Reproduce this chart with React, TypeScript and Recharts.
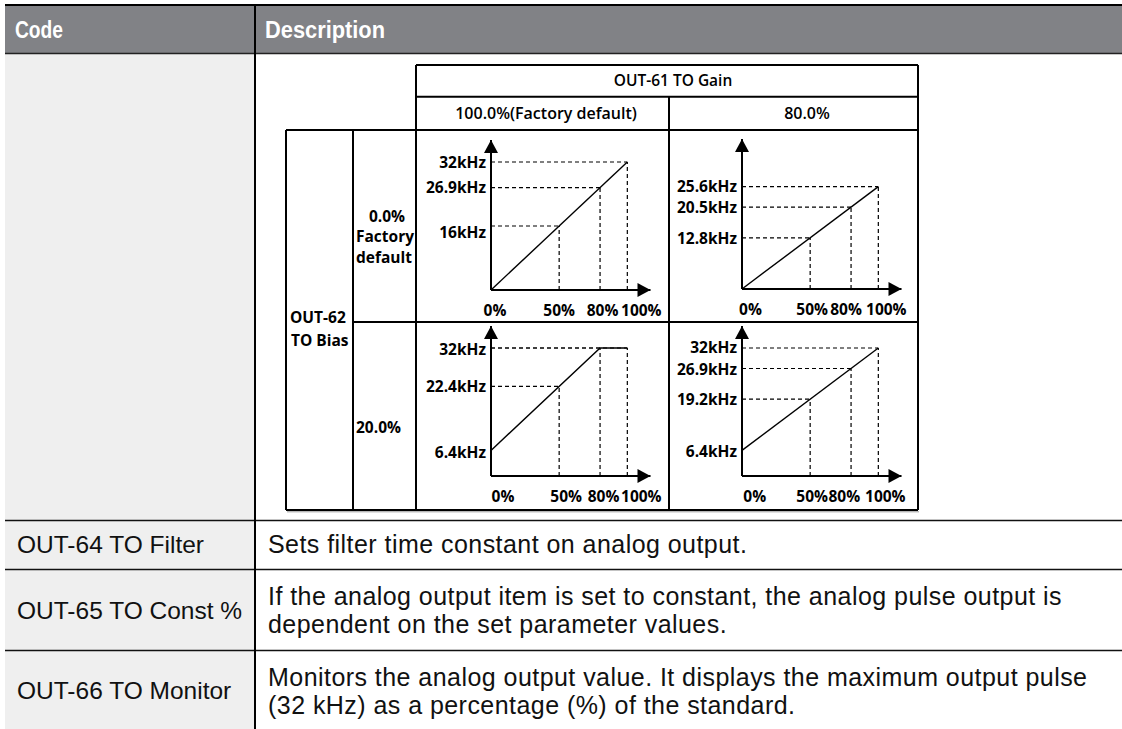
import React from "react";
import { LineChart, Line, XAxis, YAxis, ReferenceLine, ReferenceDot } from "recharts";

// TO output curves: x = output item level (%), y = output pulse (kHz)
const gain100Bias0 = [
  { x: 0, y: 0 },
  { x: 100, y: 32 },
];
const gain80Bias0 = [
  { x: 0, y: 0 },
  { x: 100, y: 25.6 },
];
const gain100Bias20 = [
  { x: 0, y: 6.4 },
  { x: 80, y: 32 },
  { x: 100, y: 32 },
];
const gain80Bias20 = [
  { x: 0, y: 6.4 },
  { x: 100, y: 32 },
];

const xTicks = [0, 50, 80, 100];
const xLabels = ["0%", "50%", "80%", "100%"];
const guideX = [50, 80, 100];

const guideY100_0 = [16, 25.6, 32];
const guideY80_0 = [12.8, 20.48, 25.6];
const guideY100_20 = [22.4, 32, 32];
const guideY80_20 = [19.2, 26.88, 32];

const yTicks100_0 = [16, 25.6, 32];
const yLabels100_0 = ["16kHz", "26.9kHz", "32kHz"];
const yTicks80_0 = [12.8, 20.48, 25.6];
const yLabels80_0 = ["12.8kHz", "20.5kHz", "25.6kHz"];
const yTicks100_20 = [6.4, 22.4, 32];
const yLabels100_20 = ["6.4kHz", "22.4kHz", "32kHz"];
const yTicks80_20 = [6.4, 19.2, 26.88, 32];
const yLabels80_20 = ["6.4kHz", "19.2kHz", "26.9kHz", "32kHz"];

const gainLabels = ["100.0%(Factory default)", "80.0%"];
const codes = ["OUT-64 TO Filter", "OUT-65 TO Const %", "OUT-66 TO Monitor"];
const descriptions = [
  ["Sets filter time constant on analog output."],
  [
    "If the analog output item is set to constant, the analog pulse output is",
    "dependent on the set parameter values.",
  ],
  [
    "Monitors the analog output value. It displays the maximum output pulse",
    "(32 kHz) as a percentage (%) of the standard.",
  ],
];

const X_MAX = 117;
const Y_MAX = 37.5;

const diagFont = {
  fontFamily: "'Open Sans', sans-serif",
  fontWeight: 700,
  fontSize: 15.5,
  fill: "#000",
};
const bodyFont = {
  fontFamily: "'Liberation Sans', Arial, sans-serif",
  fontSize: 24.5,
  fill: "#111",
};
const headFont = {
  fontFamily: "'Liberation Sans', Arial, sans-serif",
  fontSize: 23,
  fontWeight: 700,
  fill: "#fff",
};

type Pt = { x: number; y: number };

function Panel({
  data,
  guideY,
  yTicks,
  yLabels,
  left,
  top,
  xShift,
  yShift,
}: {
  data: Pt[];
  guideY: number[];
  yTicks: number[];
  yLabels: string[];
  left: number;
  top: number;
  xShift: number[];
  yShift: number[];
}) {
  return (
    <div style={{ position: "absolute", left, top }}>
      <LineChart
        width={260}
        height={195}
        data={data}
        margin={{ top: 10, left: 15, right: 25.5, bottom: 5 }}
      >
        <XAxis
          type="number"
          dataKey="x"
          domain={[0, X_MAX]}
          ticks={xTicks}
          interval={0}
          height={30}
          tickLine={false}
          tickSize={0}
          tickMargin={0}
          axisLine={{ stroke: "#000", strokeWidth: 2 }}
          tick={(p: any) => {
            const i = xTicks.indexOf(p.payload.value);
            return (
              <text x={p.x + (xShift[i] ?? 0)} y={p.y + 26} textAnchor="middle" style={diagFont}>
                {xLabels[i]}
              </text>
            );
          }}
        />
        <YAxis
          type="number"
          domain={[0, Y_MAX]}
          ticks={yTicks}
          interval={0}
          width={60}
          tickLine={false}
          tickSize={0}
          tickMargin={5}
          axisLine={{ stroke: "#000", strokeWidth: 2 }}
          tick={(p: any) => {
            const i = yTicks.indexOf(p.payload.value);
            return (
              <text
                x={p.x}
                y={p.y + (yShift[i] ?? 0)}
                dy="0.36em"
                textAnchor="end"
                style={diagFont}
              >
                {yLabels[i]}
              </text>
            );
          }}
        />
        {guideX.map((gx, i) => (
          <ReferenceLine
            key={"h" + i}
            segment={[
              { x: 0, y: guideY[i] },
              { x: gx, y: guideY[i] },
            ]}
            stroke="#000"
            strokeWidth={1.2}
            strokeDasharray="4 3"
            ifOverflow="visible"
          />
        ))}
        {guideX.map((gx, i) => (
          <ReferenceLine
            key={"v" + i}
            segment={[
              { x: gx, y: 0 },
              { x: gx, y: guideY[i] },
            ]}
            stroke="#000"
            strokeWidth={1.2}
            strokeDasharray="4 3"
            ifOverflow="visible"
          />
        ))}
        <Line
          type="linear"
          dataKey="y"
          stroke="#000"
          strokeWidth={1.4}
          dot={false}
          activeDot={false}
          isAnimationActive={false}
        />
        <ReferenceDot
          x={X_MAX}
          y={0}
          ifOverflow="visible"
          shape={(p: any) => (
            <path
              d={`M${p.cx},${p.cy} L${p.cx - 13},${p.cy - 7} L${p.cx - 13},${p.cy + 7} Z`}
              fill="#000"
            />
          )}
        />
        <ReferenceDot
          x={0}
          y={Y_MAX}
          ifOverflow="visible"
          shape={(p: any) => (
            <path
              d={`M${p.cx},${p.cy} L${p.cx - 7},${p.cy + 13} L${p.cx + 7},${p.cy + 13} Z`}
              fill="#000"
            />
          )}
        />
      </LineChart>
    </div>
  );
}

const codeBaselines = [553, 619, 699];
const descBaselines = [[553], [605, 633], [686, 714]];

export default function App() {
  const line = { stroke: "#000", strokeWidth: 2 };
  return (
    <div
      style={{
        position: "absolute",
        left: 0,
        top: 0,
        width: 1122,
        height: 729,
        background: "#fff",
        overflow: "hidden",
      }}
    >
      <svg width={1122} height={729} style={{ position: "absolute", left: 0, top: 0 }}>
        {/* outer table */}
        <rect x={5} y={6} width={1117} height={47} fill="#818286" />
        <rect x={5} y={54} width={250} height={675} fill="#efefef" />
        <line x1={5} x2={1122} y1={5} y2={5} stroke="#000" strokeWidth={2} />
        <line x1={5} x2={1122} y1={53.5} y2={53.5} stroke="#222" strokeWidth={1.5} />
        {[520.5, 569.5, 650.5].map((y) => (
          <line key={y} x1={5} x2={1122} y1={y} y2={y} stroke="#111" strokeWidth={1.6} />
        ))}
        <line x1={255} x2={255} y1={4} y2={729} stroke="#000" strokeWidth={2} />
        <text x={15} y={38} style={headFont} textLength={48} lengthAdjust="spacingAndGlyphs">
          Code
        </text>
        <text x={265} y={38} style={headFont} textLength={120} lengthAdjust="spacingAndGlyphs">
          Description
        </text>
        {codes.map((c, i) => (
          <text key={c} x={17} y={codeBaselines[i]} style={bodyFont}>
            {c}
          </text>
        ))}
        {descriptions.map((lines, i) =>
          lines.map((t, j) => (
            <text
              key={t}
              x={268}
              y={descBaselines[i][j]}
              style={{ ...bodyFont, fontSize: 25, letterSpacing: 0.45 }}
            >
              {t}
            </text>
          ))
        )}

        {/* inner diagram grid */}
        <line x1={416} x2={918} y1={65} y2={65} {...line} />
        <line x1={416} x2={918} y1={96.7} y2={96.7} {...line} />
        <line x1={286} x2={918} y1={130} y2={130} {...line} />
        <line x1={353} x2={918} y1={322} y2={322} {...line} />
        <line x1={286} x2={918} y1={510} y2={510} {...line} />
        <line x1={287} x2={919} y1={511.8} y2={511.8} stroke="#999" strokeWidth={1} />
        <line x1={286} x2={286} y1={130} y2={510} {...line} />
        <line x1={353} x2={353} y1={130} y2={510} {...line} />
        <line x1={416} x2={416} y1={65} y2={510} {...line} />
        <line x1={669} x2={669} y1={96.7} y2={510} {...line} />
        <line x1={918} x2={918} y1={65} y2={510} {...line} />

        <text x={673} y={86} textAnchor="middle" style={{ ...diagFont, fontWeight: 600 }}>
          OUT-61 TO Gain
        </text>
        <text x={546} y={118.5} textAnchor="middle" style={{ ...diagFont, fontWeight: 600, fontSize: 16 }}>
          {gainLabels[0]}
        </text>
        <text x={807} y={118.5} textAnchor="middle" style={{ ...diagFont, fontWeight: 600, fontSize: 16 }}>
          {gainLabels[1]}
        </text>
        <text x={387} y={221.5} textAnchor="middle" style={diagFont}>
          0.0%
        </text>
        <text x={385} y={241.5} textAnchor="middle" style={diagFont}>
          Factory
        </text>
        <text x={384} y={262.5} textAnchor="middle" style={diagFont}>
          default
        </text>
        <text x={290} y={323} style={diagFont}>
          OUT-62
        </text>
        <text x={291} y={345.5} style={diagFont}>
          TO Bias
        </text>
        <text x={356} y={433} style={diagFont}>
          20.0%
        </text>
      </svg>

      <Panel
        data={gain100Bias0}
        guideY={guideY100_0}
        yTicks={yTicks100_0}
        yLabels={yLabels100_0}
        left={415.7}
        top={130}
        xShift={[4, 0, 2.5, 14]}
        yShift={[6, 0, 0]}
      />
      <Panel
        data={gain80Bias0}
        guideY={guideY80_0}
        yTicks={yTicks80_0}
        yLabels={yLabels80_0}
        left={667.3}
        top={129.3}
        xShift={[8.5, 2, -5, 8]}
        yShift={[1, 0, 0]}
      />
      <Panel
        data={gain100Bias20}
        guideY={guideY100_20}
        yTicks={yTicks100_20}
        yLabels={yLabels100_20}
        left={415.7}
        top={316}
        xShift={[12, 7, 3.5, 14]}
        yShift={[2, 0, 1]}
      />
      <Panel
        data={gain80Bias20}
        guideY={guideY80_20}
        yTicks={yTicks80_20}
        yLabels={yLabels80_20}
        left={667.3}
        top={316}
        xShift={[12.7, 2, -6.7, 7]}
        yShift={[1, 0, 1, -1]}
      />
    </div>
  );
}
